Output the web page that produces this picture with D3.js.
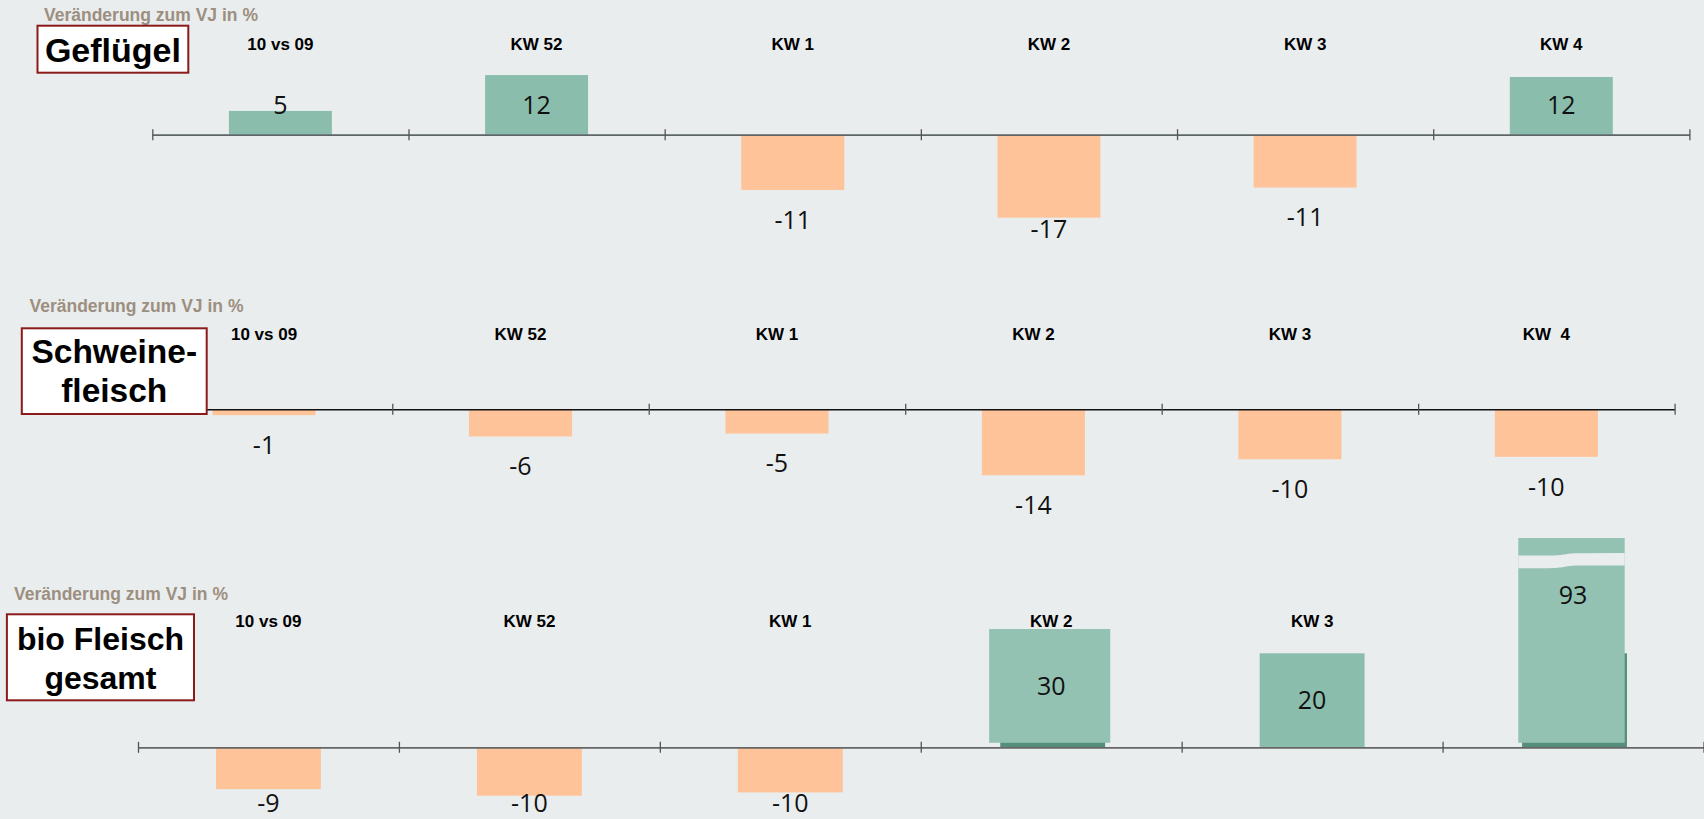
<!DOCTYPE html>
<html>
<head>
<meta charset="utf-8">
<script src="https://cdn.jsdelivr.net/npm/d3@7"></script>
<style>
  html, body { margin: 0; padding: 0; background: #e9edee; }
  svg { display: block; }
  text { white-space: pre; }
</style>
</head>
<body>
<svg id="chart" width="1704" height="819"></svg>
<script>
// ---------------- DATA ----------------
const subtitle = "Veränderung zum VJ in %";

const title1 = ["Geflügel"];
const categories1 = ["10 vs 09", "KW 52", "KW 1", "KW 2", "KW 3", "KW 4"];
const values1 = [4.9, 12.3, -11.4, -17.1, -10.9, 11.9];

const title2 = ["Schweine-", "fleisch"];
const categories2 = ["10 vs 09", "KW 52", "KW 1", "KW 2", "KW 3", "KW  4"];
const values2 = [-1.2, -5.6, -5.0, -13.6, -10.3, -9.8];

const title3 = ["bio Fleisch", "gesamt"];
const categories3 = ["10 vs 09", "KW 52", "KW 1", "KW 2", "KW 3", "KW 4"];
const values3 = [-8.9, -10.3, -9.6, 30, 20, 93];

// ---------------- LAYOUT ----------------
const colors = {
  bg: "#e9edee", pos: "#8abdac", neg: "#ffc399", over: "#93c2b3",
  under: "#558f7b", sub: "#9d8f80", border: "#8b1a1a"
};

const panels = [
  {
    title: title1, cats: categories1, vals: values1,
    sub: { x: 44, y: 20.5 },
    box: { x: 37.5, y: 25.7, w: 150.8, h: 47, fs: 34, lines: [61.7] },
    x0: 152.3, x1: 1689.4, axisY: 134.7,
    yDomain: [-20, 0, 20], k: 4.85,
    catY: 50, labelMax: 229.5,
    axisColor: "#5d6667", axisW: 1.8
  },
  {
    title: title2, cats: categories2, vals: values2,
    sub: { x: 29.5, y: 312.3 },
    box: { x: 21.8, y: 328.3, w: 184.9, h: 85.7, fs: 33.5, lines: [363.3, 401.7] },
    x0: 135.8, x1: 1674.6, axisY: 409.3,
    yDomain: [-20, 0, 20], k: 4.85,
    catY: 340, labelMax: 560,
    axisColor: "#111", axisW: 1.5
  },
  {
    title: title3, cats: categories3, vals: values3,
    sub: { x: 14, y: 600 },
    box: { x: 6.9, y: 614.3, w: 187.1, h: 86, fs: 32, lines: [650, 689.3] },
    x0: 138, x1: 1703.5, axisY: 747.3,
    // broken value axis: bars were clipped at 20 and extended above
    yDomain: [-15, 0, 20, 30, 93], k: 4.7,
    yRangeTop: [629, 538], clip: 20, breakAt: 90,
    catY: 627.3, labelMax: 803,
    axisColor: "#666", axisW: 1.8,
    overlayPad: { 3: [-9.6, 6.6], 5: [-2.3, -0.8] }
  }
];

const svg = d3.select("#chart");
svg.append("rect").attr("width", 1704).attr("height", 819).attr("fill", colors.bg);

const valFont = "'Open Sans', 'Noto Sans', sans-serif";
const valFs = 25;

panels.forEach(p => {
  const g = svg.append("g");
  const n = p.cats.length;
  const band = d3.scaleBand().domain(d3.range(n)).range([p.x0, p.x1]).padding(0);
  const bw = band.bandwidth();
  const barW = bw * 0.402;

  // value scale (polylinear for broken axis)
  let yRange = p.yDomain.map(v => p.axisY - v * p.k);
  if (p.yRangeTop) {
    yRange = [p.axisY - p.yDomain[0] * p.k, p.axisY, p.axisY - p.yDomain[2] * p.k].concat(p.yRangeTop);
  }
  const y = d3.scaleLinear().domain(p.yDomain).range(yRange);

  // subtitle
  g.append("text")
    .attr("x", p.sub.x).attr("y", p.sub.y)
    .attr("font-family", "'Liberation Sans', Arial, sans-serif")
    .attr("font-weight", "bold").attr("font-size", 17.5)
    .attr("fill", colors.sub)
    .text(subtitle);

  // category labels
  g.selectAll("text.cat").data(p.cats).join("text")
    .attr("class", "cat")
    .attr("x", (d, i) => band(i) + bw / 2)
    .attr("y", p.catY)
    .attr("text-anchor", "middle")
    .attr("font-family", "'Liberation Sans', Arial, sans-serif")
    .attr("font-weight", "bold").attr("font-size", 17)
    .attr("fill", "#000")
    .text(d => d);

  const barX = i => band(i) + (bw - barW) / 2;

  p.vals.forEach((v, i) => {
    const bx = barX(i);
    if (p.clip !== undefined && v > p.clip) {
      // underlying (clipped) bar
      g.append("rect")
        .attr("x", bx + 1.5).attr("width", barW)
        .attr("y", y(p.clip)).attr("height", p.axisY - y(p.clip))
        .attr("fill", colors.under);
      // extension overlay
      const pad = (p.overlayPad && p.overlayPad[i]) || [-4, 4];
      const top = y(v), bottom = p.axisY - 4.5;
      g.append("rect")
        .attr("x", bx + pad[0]).attr("width", barW - pad[0] + pad[1])
        .attr("y", top).attr("height", bottom - top)
        .attr("fill", colors.over);
      let labelC = (top + bottom) / 2;
      if (v >= p.breakAt) {
        // axis break mark
        const l = bx + pad[0], r = bx + barW + pad[1], m = (l + r) / 2;
        const t = top + 16;
        const path = d3.path();
        path.moveTo(l, t + 1.5);
        path.lineTo(m - 22, t + 1.5);
        path.bezierCurveTo(m - 5, t + 1.5, m - 8, t - 0.8, m + 8, t - 0.8);
        path.lineTo(r, t - 1);
        path.lineTo(r, t + 11.5);
        path.lineTo(m + 8, t + 11.6);
        path.bezierCurveTo(m - 8, t + 11.6, m - 5, t + 14, m - 22, t + 14.2);
        path.lineTo(l, t + 14.2);
        path.closePath();
        g.append("path").attr("d", path.toString()).attr("fill", colors.bg);
        labelC = t + 12.5 + 29;
      }
      g.append("text")
        .attr("x", bx + barW / 2).attr("y", labelC + 0.357 * valFs)
        .attr("text-anchor", "middle").attr("font-family", valFont)
        .attr("font-size", valFs).attr("fill", "#111")
        .text(Math.round(v));
    } else {
      const top = Math.min(y(v), y(0)), h = Math.abs(y(v) - y(0));
      g.append("rect")
        .attr("x", bx).attr("width", barW)
        .attr("y", top).attr("height", h)
        .attr("fill", v >= 0 ? colors.pos : colors.neg);
      let c;
      if (v >= 0) c = Math.min((y(v) + y(0)) / 2, p.axisY - 30);
      else c = Math.min(y(v) + 30, p.labelMax);
      g.append("text")
        .attr("x", bx + barW / 2).attr("y", c + 0.357 * valFs)
        .attr("text-anchor", "middle").attr("font-family", valFont)
        .attr("font-size", valFs).attr("fill", "#111")
        .text(Math.round(v));
    }
  });

  // category axis with ticks at band boundaries
  const edge = d3.scaleLinear().domain([0, n]).range([p.x0, p.x1]);
  const axis = d3.axisBottom(edge).tickValues(d3.range(n + 1)).tickFormat("").tickSizeInner(5.5).tickSizeOuter(0);
  const ax = g.append("g").attr("transform", `translate(0,${p.axisY})`).call(axis);
  ax.select(".domain").attr("stroke", p.axisColor).attr("stroke-width", p.axisW);
  ax.selectAll(".tick line").attr("y1", -5.5).attr("y2", 5.5).attr("stroke", "#555").attr("stroke-width", 1.3);

  // title box
  g.append("rect")
    .attr("x", p.box.x).attr("y", p.box.y).attr("width", p.box.w).attr("height", p.box.h)
    .attr("fill", "#fff").attr("stroke", colors.border).attr("stroke-width", 2);
  p.title.forEach((t, j) => {
    g.append("text")
      .attr("x", p.box.x + p.box.w / 2).attr("y", p.box.lines[j])
      .attr("text-anchor", "middle")
      .attr("font-family", "'Liberation Sans', Arial, sans-serif")
      .attr("font-weight", "bold").attr("font-size", p.box.fs)
      .attr("fill", "#000")
      .text(t);
  });
});
</script>
</body>
</html>
